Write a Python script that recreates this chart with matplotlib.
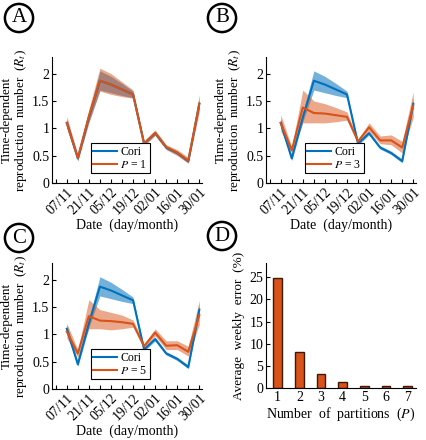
import matplotlib
matplotlib.use("Agg")
import matplotlib.pyplot as plt
import numpy as np

plt.rcParams['font.family'] = ['Liberation Serif', 'DejaVu Serif']
plt.rcParams['mathtext.fontset'] = 'stix'

# weekly dates, labels every two weeks
dates = ['07/11', '14/11', '21/11', '28/11', '05/12', '12/12', '19/12',
         '26/12', '02/01', '09/01', '16/01', '23/01', '30/01']

cori = [1.10, 0.45, 1.20, 1.87, 1.80, 1.71, 1.62, 0.72, 0.91, 0.65, 0.55, 0.40, 1.45]
cori_lo = [1.03, 0.41, 1.12, 1.70, 1.65, 1.60, 1.56, 0.69, 0.88, 0.62, 0.52, 0.37, 1.37]
cori_hi = [1.18, 0.50, 1.28, 2.05, 1.95, 1.82, 1.68, 0.76, 0.95, 0.68, 0.58, 0.44, 1.55]

p1 = [1.10, 0.46, 1.22, 1.87, 1.80, 1.71, 1.62, 0.72, 0.92, 0.66, 0.56, 0.41, 1.45]
p1_lo = [1.00, 0.40, 1.10, 1.68, 1.62, 1.58, 1.55, 0.68, 0.87, 0.61, 0.50, 0.36, 1.30]
p1_hi = [1.22, 0.52, 1.35, 2.10, 2.00, 1.85, 1.70, 0.77, 0.97, 0.70, 0.61, 0.47, 1.62]

p3 = [1.10, 0.60, 1.38, 1.28, 1.27, 1.24, 1.21, 0.76, 1.02, 0.78, 0.78, 0.65, 1.42]
p3_lo = [0.95, 0.55, 1.10, 1.10, 1.10, 1.12, 1.15, 0.72, 0.95, 0.72, 0.70, 0.55, 1.20]
p3_hi = [1.25, 0.66, 1.70, 1.50, 1.45, 1.38, 1.30, 0.80, 1.10, 0.86, 0.88, 0.76, 1.67]

p5 = [1.05, 0.65, 1.33, 1.25, 1.24, 1.22, 1.19, 0.78, 1.03, 0.79, 0.80, 0.68, 1.35]
p5_lo = [0.93, 0.58, 1.10, 1.10, 1.08, 1.10, 1.13, 0.74, 0.97, 0.72, 0.72, 0.60, 1.18]
p5_hi = [1.20, 0.72, 1.63, 1.45, 1.40, 1.35, 1.26, 0.83, 1.10, 0.88, 0.88, 0.78, 1.62]

partitions = [1, 2, 3, 4, 5, 6, 7]
errors = [24.8, 8.1, 3.1, 1.3, 0.4, 0.4, 0.4]

BLUE = '#0072BD'
ORANGE = '#D95319'

fig = plt.figure(figsize=(4.27, 4.40), dpi=100)

positions = {'A': [0.122, 0.584, 0.351, 0.286],
             'B': [0.623, 0.584, 0.351, 0.286],
             'C': [0.122, 0.116, 0.351, 0.286],
             'D': [0.623, 0.118, 0.351, 0.284]}

panels = [('A', p1, p1_lo, p1_hi, '$P$ = 1'),
          ('B', p3, p3_lo, p3_hi, '$P$ = 3'),
          ('C', p5, p5_lo, p5_hi, '$P$ = 5')]


def style_axes(ax):
    for s in ['top', 'right']:
        ax.spines[s].set_visible(False)
    ax.tick_params(direction='in', length=3, width=0.8, labelsize=10, pad=2)


x = np.arange(len(dates))
for key, vals, lo, hi, lab in panels:
    ax = fig.add_axes(positions[key])
    ax.fill_between(x, cori_lo, cori_hi, color=BLUE, alpha=0.55, lw=0)
    l1, = ax.plot(x, cori, color=BLUE, lw=1.5, label='Cori')
    ax.fill_between(x, lo, hi, color=ORANGE, alpha=0.5, lw=0)
    l2, = ax.plot(x, vals, color=ORANGE, lw=1.5, label=lab)
    ax.set_xlim(-1.33, 12.24)
    ax.set_ylim(0, 2.3)
    ax.set_xticks(np.arange(-1, 13))
    ax.set_xticklabels(['' if (i < 0 or i % 2) else dates[i] for i in range(-1, 13)],
                       rotation=45, ha='right', rotation_mode='anchor', fontsize=9)
    ax.set_yticks([0, 0.5, 1, 1.5, 2])
    ax.set_yticklabels(['0', '0.5', '1', '1.5', '2'])
    style_axes(ax)
    ax.set_ylabel('Time-dependent\nreproduction  number  ($R_t$)', fontsize=9.5,
                  linespacing=1.05, labelpad=2)
    ax.set_xlabel('Date  (day/month)', fontsize=10, labelpad=1)
    leg = ax.legend(handles=[l1, l2], loc='lower left', bbox_to_anchor=(0.22, 0.03),
                    fontsize=8.5, handlelength=2.0, handletextpad=0.3,
                    borderpad=0.2, labelspacing=0.1, fancybox=False,
                    edgecolor='black', framealpha=1)
    leg.get_frame().set_linewidth(0.8)

ax = fig.add_axes(positions['D'])
ax.bar(partitions, errors, width=0.4, color=ORANGE, edgecolor='#3a1a0a', lw=1.0)
ax.set_xlim(0.46, 7.38)
ax.set_ylim(0, 28.2)
ax.set_xticks(partitions)
ax.set_yticks([0, 5, 10, 15, 20, 25])
style_axes(ax)
ax.tick_params(axis='x', length=0)
ax.set_ylabel('Average  weekly  error  (%)', fontsize=9.5, labelpad=3)
ax.set_xlabel('Number  of  partitions  ($P$)', fontsize=10, labelpad=1)

# circled panel letters
for letter, (px, py) in {'A': (19, 18), 'B': (222, 18),
                         'C': (19, 238), 'D': (222, 236)}.items():
    fig.text(px / 427, 1 - py / 440, letter, fontsize=15, ha='center', va='center',
             bbox=dict(boxstyle='circle,pad=0.22', fc='white', ec='black', lw=1.8))

fig.savefig('out.png', dpi=100)
